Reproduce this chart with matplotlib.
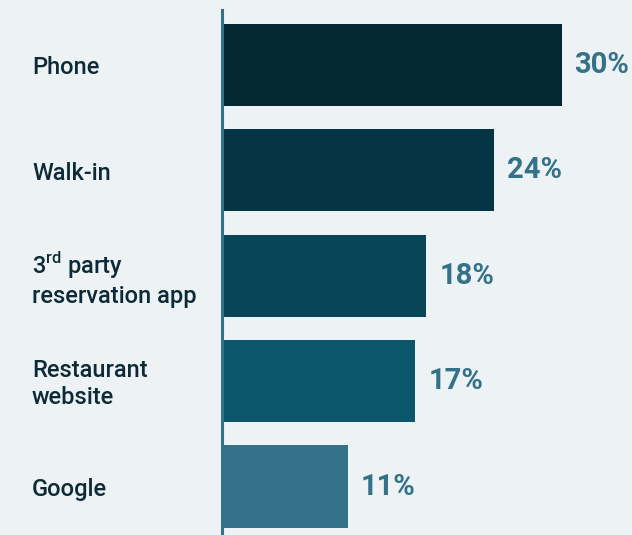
import matplotlib.pyplot as plt

plt.rcParams['font.family'] = ['Roboto', 'DejaVu Sans']
plt.rcParams['mathtext.fontset'] = 'custom'
plt.rcParams['mathtext.rm'] = 'Roboto:medium'

channels = ['Phone', 'Walk-in', '3$^{\\mathrm{rd}}$ party\nreservation app',
            'Restaurant\nwebsite', 'Google']
shares = [30, 24, 18, 17, 11]
colors = ['#022833', '#053544', '#084557', '#0b566b', '#337288']

bg = '#edf2f5'
fig = plt.figure(figsize=(6.32, 5.35), dpi=100, facecolor=bg)
ax = fig.add_axes([222 / 632, 0, 410 / 632, 525 / 535], facecolor=bg)

ypos = range(len(shares))
ax.barh(ypos, shares, height=0.78, color=colors, left=0.15)
ax.set_xlim(0, 36.4)
ax.set_ylim(4.46, -0.52)

# value labels at the end of each bar
for y, v in zip(ypos, shares):
    ax.text(v + 1.3, y, f'{v}%', va='center', ha='left', fontsize=21,
            fontweight='bold', color='#337288')

# category labels, left aligned in the margin
trans = ax.get_yaxis_transform()
for y, label in zip(ypos, channels):
    ax.text(-190 / 410, y + 0.03, label, transform=trans, va='center', ha='left',
            fontsize=17, fontweight='medium', color='#0d2a36', linespacing=1.25)

for side in ['top', 'right', 'bottom']:
    ax.spines[side].set_visible(False)
ax.spines['left'].set_color('#337288')
ax.spines['left'].set_linewidth(2.2)
ax.set_xticks([])
ax.set_yticks([])

fig.savefig('out.png', dpi=100, facecolor=bg)
